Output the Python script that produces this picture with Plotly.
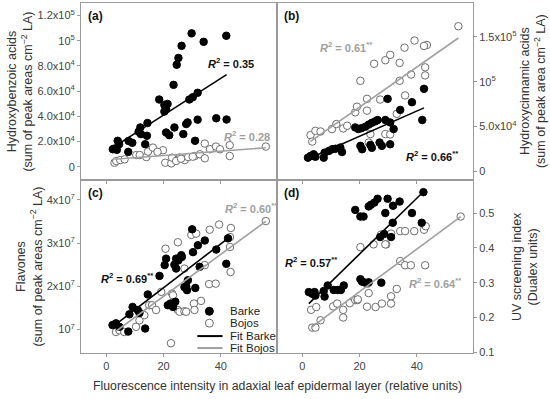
import plotly.graph_objects as go

# ---------------- data ----------------
# Panel (a) Hydroxybenzoic acids
a_barke_x = [2.8, 3.7, 4.0, 4.5, 2.3, 7.7, 7.8, 9.1, 11.3, 11.9, 12.1, 13.6, 14.2, 14.4, 18.5, 20.3, 21.4, 20.9, 20.3, 20.9,
             22.0, 23.5, 24.6, 25.2, 26.3, 23.8, 26.9, 27.9, 28.4, 29.0, 29.8, 30.2, 31.0, 31.9, 31.9, 34.0, 38.4, 41.9, 42.0]
a_barke_y = [14400, 13400, 20600, 17900, 13900, 11800, 20500, 19000, 27800, 31200, 25900, 17900, 24600, 34700, 53400,
             49100, 49900, 45900, 43800, 27200, 25100, 65000, 81000, 86400, 96000, 31200, 25900, 33900, 35200, 53400,
             105900, 55200, 20600, 58700, 37400, 99200, 38500, 104000, 37500]
a_bojos_x = [2.9, 3.5, 4.9, 6.4, 10.5, 11.7, 14.0, 14.6, 16.3, 19.8, 20.6, 22.7, 23.0, 25.7, 27.4, 28.6, 30.9, 32.7,
             34.4, 34.4, 36.2, 38.3, 39.7, 43.1, 43.1, 55.7, 17.9, 24.4, 26.1, 30.2]
a_bojos_y = [3200, 4500, 5300, 5900, 9300, 9300, 7700, 12000, 15200, 13100, 3200, 2700, 7200, 7200, 5300, 7700, 8500,
             9900, 18400, 6700, 13900, 16000, 13900, 17100, 8500, 16000, 11800, 4600, 6400, 8000]

# Panel (b) Hydroxycinnamic acids
b_barke_x = [2.0, 2.9, 4.0, 4.6, 7.5, 7.8, 9.3, 10.4, 11.6, 13.3, 13.9, 18.5, 19.6, 20.7, 22.0, 23.2, 24.3, 25.5, 26.3,
             29.0, 29.8, 30.7, 31.9, 34.2, 38.3, 42.5, 41.9, 20.3, 20.9, 23.8, 24.3, 27.0, 27.8, 30.7]
b_barke_y = [15000, 16900, 18800, 16000, 15000, 20600, 22500, 24400, 25000, 26300, 21300, 48800, 47000, 48000, 49600,
             52000, 54000, 55600, 57000, 57100, 80800, 54400, 47000, 68400, 77000, 92000, 57100, 28200, 24400, 29300,
             26000, 31900, 28200, 30000]
b_bojos_x = [2.9, 4.6, 6.4, 3.5, 10.4, 11.9, 14.3, 15.7, 18.5, 19.1, 22.6, 22.6, 20.3, 25.1, 27.2, 29.0, 30.7, 34.0,
             34.0, 35.7, 35.9, 38.0, 39.2, 42.9, 42.9, 43.5, 42.5, 54.5, 23.8, 29.0, 30.7, 33.0, 23.2]
b_bojos_y = [40200, 45000, 44300, 33000, 47000, 52600, 47700, 50700, 65700, 72000, 80800, 67600, 101000, 120000,
             80000, 124000, 130000, 121000, 101000, 138000, 84600, 108000, 146000, 107000, 116000, 141000, 140000,
             162000, 41400, 41400, 41000, 64000, 31900]

# Panel (c) Flavones
c_barke_x = [2.2, 3.4, 4.6, 7.7, 8.1, 9.2, 11.0, 11.6, 13.6, 14.5, 18.6, 20.4, 20.9, 21.5, 22.4, 23.3, 24.1, 23.8, 24.4,
             25.2, 26.2, 26.4, 24.4, 27.3, 27.9, 28.5, 28.2, 30.3, 30.0, 32.0, 31.1, 32.6, 34.4, 38.4, 42.5, 41.9]
c_barke_y = [1.10e7, 1.14e7, 1.06e7, 0.95e7, 1.35e7, 1.52e7, 1.45e7, 1.38e7, 1.02e7, 1.81e7, 2.24e7, 2.49e7, 2.64e7,
             1.56e7, 1.60e7, 1.52e7, 1.64e7, 2.50e7, 2.64e7, 2.60e7, 2.72e7, 2.68e7, 2.41e7, 1.98e7, 2.00e7, 2.14e7,
             1.91e7, 2.79e7, 3.32e7, 2.95e7, 1.96e7, 2.45e7, 3.06e7, 2.85e7, 3.11e7, 2.52e7]
c_bojos_x = [3.4, 4.6, 6.3, 10.4, 11.6, 12.2, 13.3, 15.0, 16.0, 17.4, 19.2, 20.7, 22.6, 23.0, 23.3, 25.0, 25.0, 25.6,
             27.3, 27.3, 27.9, 29.7, 30.6, 30.8, 31.4, 33.1, 34.4, 35.9, 36.1, 38.2, 39.4, 43.2, 43.2, 43.4, 43.5, 55.7]
c_bojos_y = [0.94e7, 0.98e7, 0.94e7, 1.06e7, 1.21e7, 1.37e7, 1.33e7, 1.56e7, 1.56e7, 1.45e7, 1.87e7, 2.87e7, 0.68e7,
             1.83e7, 1.79e7, 1.45e7, 3.02e7, 1.41e7, 2.41e7, 1.42e7, 1.41e7, 3.19e7, 1.60e7, 1.45e7, 3.22e7, 1.66e7,
             2.49e7, 2.05e7, 3.31e7, 2.06e7, 3.43e7, 3.14e7, 2.91e7, 2.33e7, 3.35e7, 3.51e7]

# Panel (d) UV screening index
d_barke_x = [2.3, 3.5, 4.3, 4.6, 7.5, 7.8, 8.9, 11.0, 12.4, 13.5, 14.5, 18.5, 20.3, 21.4, 23.2, 24.0, 25.2, 26.3, 29.8,
             29.0, 31.7, 34.0, 38.3, 42.3, 41.7, 31.6, 27.2, 28.6, 31.0, 20.3, 20.9, 22.0, 23.2, 27.6]
d_barke_y = [0.273, 0.268, 0.273, 0.263, 0.276, 0.260, 0.292, 0.279, 0.279, 0.279, 0.292, 0.509, 0.490, 0.490, 0.519,
             0.524, 0.530, 0.541, 0.541, 0.500, 0.521, 0.533, 0.500, 0.560, 0.472, 0.472, 0.431, 0.440, 0.431, 0.310,
             0.303, 0.300, 0.301, 0.300]
d_bojos_x = [3.5, 4.6, 6.4, 3.1, 4.9, 10.8, 12.2, 14.3, 14.3, 16.6, 18.5, 19.3, 20.3, 22.8, 23.2, 22.6, 25.6, 27.8,
             29.3, 24.9, 27.5, 29.0, 31.0, 34.2, 35.9, 39.1, 42.5, 43.1, 55.3, 34.2, 35.9, 37.9, 42.9, 33.0, 31.0, 31.0,
             19.4]
d_bojos_y = [0.171, 0.171, 0.192, 0.222, 0.230, 0.232, 0.240, 0.222, 0.200, 0.241, 0.250, 0.250, 0.402, 0.297, 0.270,
             0.231, 0.230, 0.240, 0.410, 0.410, 0.438, 0.410, 0.441, 0.448, 0.448, 0.448, 0.452, 0.462, 0.490, 0.362,
             0.350, 0.350, 0.350, 0.282, 0.261, 0.240, 0.252]

# linear fits (slope, intercept)
fit_barke = {"a": (1458, 11850), "b": (1409, 10800), "c": (5.09e5, 0.948e7), "d": (0.00803, 0.2215)}
fit_bojos = {"a": (175, 5390), "b": (2241, 26750), "c": (4.87e5, 0.792e7), "d": (0.00611, 0.152)}

r2_labels = {
    "a": ("0.35", "0.28"), "b": ("0.66<sup>**</sup>", "0.61<sup>**</sup>"),
    "c": ("0.69<sup>**</sup>", "0.60<sup>**</sup>"), "d": ("0.57<sup>**</sup>", "0.64<sup>**</sup>"),
}

x_ticks = [0, 20, 40]
a_ticks = [0, 2e4, 4e4, 6e4, 8e4, 1e5, 1.2e5]
a_tick_text = ["0", "2.0x10<sup>4</sup>", "4.0x10<sup>4</sup>", "6.0x10<sup>4</sup>", "8.0x10<sup>4</sup>",
               "10<sup>5</sup>", "1.2x10<sup>5</sup>"]
b_ticks = [0, 5e4, 1e5, 1.5e5]
b_tick_text = ["0", "5.0x10<sup>4</sup>", "10<sup>5</sup>", "1.5x10<sup>5</sup>"]
c_ticks = [1e7, 2e7, 3e7, 4e7]
c_tick_text = ["10<sup>7</sup>", "2x10<sup>7</sup>", "3x10<sup>7</sup>", "4x10<sup>7</sup>"]
d_ticks = [0.1, 0.2, 0.3, 0.4, 0.5]
d_tick_text = ["0.1", "0.2", "0.3", "0.4", "0.5"]

# ---------------- figure ----------------
FONT = "Liberation Sans, Arial, sans-serif"
BLACK = "#000000"
GRAY_LINE = "#a0a0a0"
GRAY_TEXT = "#a0a0a0"
OPEN_EDGE = "#6e6e6e"
FRAME = "#9a9a9a"

fig = go.Figure()

panels = {
    "a": ("x", "y", a_barke_x, a_barke_y, a_bojos_x, a_bojos_y),
    "b": ("x2", "y2", b_barke_x, b_barke_y, b_bojos_x, b_bojos_y),
    "c": ("x3", "y3", c_barke_x, c_barke_y, c_bojos_x, c_bojos_y),
    "d": ("x4", "y4", d_barke_x, d_barke_y, d_bojos_x, d_bojos_y),
}

for key, (xa, ya, bx, by, ox, oy) in panels.items():
    fig.add_trace(go.Scatter(x=ox, y=oy, xaxis=xa, yaxis=ya, mode="markers", showlegend=False,
                             marker=dict(size=7.5, color="white", line=dict(color=OPEN_EDGE, width=1))))
    fig.add_trace(go.Scatter(x=bx, y=by, xaxis=xa, yaxis=ya, mode="markers", showlegend=False,
                             marker=dict(size=7.5, color=BLACK, line=dict(color=BLACK, width=1))))
    for xs, (m, c0), col in ((ox, fit_bojos[key], GRAY_LINE), (bx, fit_barke[key], BLACK)):
        lx = [min(xs), max(xs)]
        fig.add_trace(go.Scatter(x=lx, y=[m * v + c0 for v in lx], xaxis=xa, yaxis=ya, mode="lines",
                                 showlegend=False, line=dict(color=col, width=1.6)))

XR = [-8.8, 59.6]
common_x = dict(range=XR, tickvals=x_ticks, ticks="outside", ticklen=3, tickcolor=FRAME, showline=True,
                linecolor=FRAME, linewidth=1, mirror=True, showgrid=False, zeroline=False, automargin=False,
                tickfont=dict(family=FONT, size=11, color="#444"))
common_y = dict(ticks="outside", ticklen=3, tickcolor=FRAME, showline=True, linecolor=FRAME, linewidth=1,
                mirror=True, showgrid=False, zeroline=False, automargin=False,
                tickfont=dict(family=FONT, size=11, color="#444"))
TITLE_FONT = dict(family=FONT, size=12.5, color="#333")
YS = 0.494

fig.update_layout(
    template="none",
    width=550, height=399, margin=dict(l=81, r=77, t=3, b=46, autoexpand=False),
    paper_bgcolor="white", plot_bgcolor="white", showlegend=False,
    font=dict(family=FONT, size=12, color="#333"),
    xaxis=dict(domain=[0, 0.5], anchor="y", showticklabels=False, **common_x),
    xaxis2=dict(domain=[0.5, 1], anchor="y2", showticklabels=False, **common_x),
    xaxis3=dict(domain=[0, 0.5], anchor="y3", **common_x),
    xaxis4=dict(domain=[0.5, 1], anchor="y4", **common_x),
    yaxis=dict(domain=[YS, 1], anchor="x", range=[-10600, 130000], tickvals=a_ticks, ticktext=a_tick_text,
               title=dict(text="Hydroxybenzoic acids<br>(sum of peak areas cm<sup>\u22122</sup> LA)",
                          font=TITLE_FONT), **common_y),
    yaxis2=dict(domain=[YS, 1], anchor="x2", side="right", range=[-10100, 188000], tickvals=b_ticks,
                ticktext=b_tick_text, **common_y),
    yaxis3=dict(domain=[0, YS], anchor="x3", range=[4.53e6, 4.46e7], tickvals=c_ticks, ticktext=c_tick_text,
                title=dict(text="Flavones<br>(sum of peak areas cm<sup>\u22122</sup> LA)", font=TITLE_FONT),
                **common_y),
    yaxis4=dict(domain=[0, YS], anchor="x4", side="right", range=[0.098, 0.5946], tickvals=d_ticks,
                ticktext=d_tick_text, **common_y),
)

# right-hand axis titles
fig.add_annotation(text="Hydroxycinnamic acids<br>(sum of peak area cm<sup>\u22122</sup> LA)", textangle=-90,
                   xref="paper", yref="y2 domain", x=(532.5 - 81) / 392, y=0.5, xanchor="center",
                   yanchor="middle", showarrow=False, font=TITLE_FONT)
fig.add_annotation(text="UV screening index<br>(Dualex units)", textangle=-90,
                   xref="paper", yref="y4 domain", x=(524.5 - 81) / 392, y=0.5, xanchor="center",
                   yanchor="middle", showarrow=False, font=TITLE_FONT)

# panel labels
for key, xa, ya in (("a", "x", "y"), ("b", "x2", "y2"), ("c", "x3", "y3"), ("d", "x4", "y4")):
    fig.add_annotation(text=f"<b>({key})</b>", xref=f"{xa} domain", yref=f"{ya} domain", x=0.025, y=0.975,
                       xanchor="left", yanchor="top", showarrow=False,
                       font=dict(family=FONT, size=12, color="#111"))

# R² labels (data coordinates of each panel)
r2_pos = {
    "a": ("x", "y", (43.7, 82000), (49.1, 24600)),
    "b": ("x2", "y2", (45.2, 16900), (15.4, 139000)),
    "c": ("x3", "y3", (7.2, 2.2e7), (50.6, 3.81e7)),
    "d": ("x4", "y4", (2.9, 0.36), (46.5, 0.299)),
}
for key, (xa, ya, pb, po) in r2_pos.items():
    tb, to = r2_labels[key]
    fig.add_annotation(text=f"<b><i>R</i><sup>2</sup> = {tb}</b>", xref=xa, yref=ya, x=pb[0], y=pb[1],
                       xanchor="center", showarrow=False, font=dict(family=FONT, size=11, color="#111"))
    fig.add_annotation(text=f"<b><i>R</i><sup>2</sup> = {to}</b>", xref=xa, yref=ya, x=po[0], y=po[1],
                       xanchor="center", showarrow=False, font=dict(family=FONT, size=11, color=GRAY_TEXT))

# legend inside panel (c)
leg_items = [("Barke", 1.42e7), ("Bojos", 1.145e7), ("Fit Barke", 0.845e7), ("Fit Bojos", 0.568e7)]
for label, yy in leg_items:
    fig.add_annotation(text=label, xref="x3", yref="y3", x=42.4, y=yy, xanchor="left", showarrow=False,
                       font=dict(family=FONT, size=11.5, color="#222"))
fig.add_shape(type="circle", xref="x3", yref="y3", xsizemode="pixel", ysizemode="pixel",
              xanchor=36.0, yanchor=1.42e7, x0=-4, x1=4, y0=-4, y1=4, fillcolor=BLACK, line=dict(color=BLACK, width=1))
fig.add_shape(type="circle", xref="x3", yref="y3", xsizemode="pixel", ysizemode="pixel",
              xanchor=36.0, yanchor=1.145e7, x0=-4, x1=4, y0=-4, y1=4, fillcolor="white",
              line=dict(color=OPEN_EDGE, width=1))
fig.add_shape(type="line", xref="x3", yref="y3", x0=31.8, x1=40.6, y0=0.845e7, y1=0.845e7,
              line=dict(color=BLACK, width=2))
fig.add_shape(type="line", xref="x3", yref="y3", x0=31.8, x1=40.6, y0=0.568e7, y1=0.568e7,
              line=dict(color=GRAY_LINE, width=2))

# shared x title
fig.add_annotation(text="Fluorescence intensity in adaxial leaf epidermal layer (relative units)",
                   xref="paper", yref="paper", x=0.5, y=-(386 - 353) / 350, xanchor="center", yanchor="middle",
                   showarrow=False, font=dict(family=FONT, size=12.3, color="#333"))

fig.write_html("out.html", config={"displayModeBar": False},
               post_script="document.body.style.margin='0px';")
